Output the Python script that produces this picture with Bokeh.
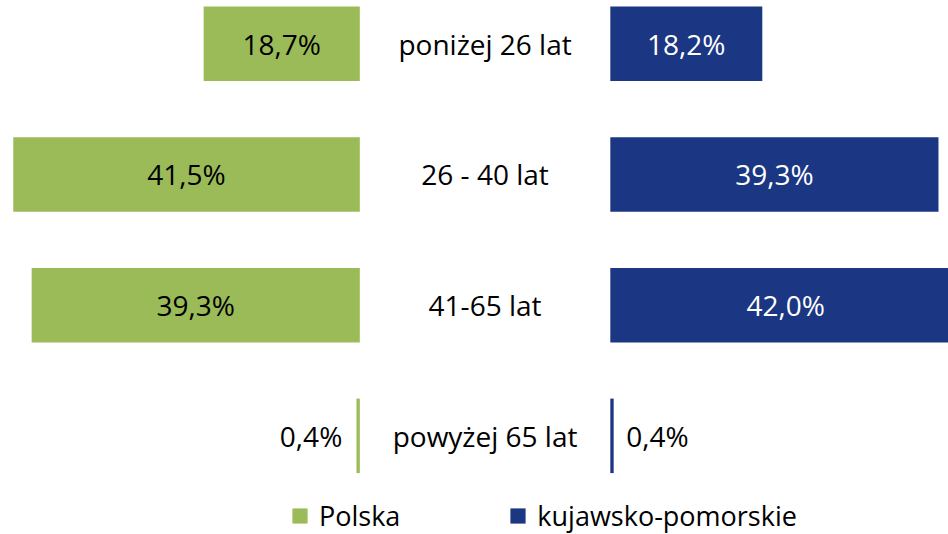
from bokeh.plotting import figure
from bokeh.models import Range1d, Legend, LegendItem, ColumnDataSource
from bokeh.core.properties import value
from bokeh.embed import file_html
from bokeh.resources import INLINE

categories = ["poniżej 26 lat", "26 - 40 lat", "41-65 lat", "powyżej 65 lat"]
polska = [18.7, 41.5, 39.3, 0.4]
kujawsko = [18.2, 39.3, 42.0, 0.4]
series_names = ["Polska", "kujawsko-pomorskie"]

GREEN = "#9BBB59"
BLUE = "#1B3682"
FONT = value("Open Sans")
GAP = 30.0          # width of the central label column, in % units
INSIDE_MIN = 5.0    # values below this get their label outside the bar

def fmt(v):
    return f"{v:.1f}".replace(".", ",") + "%"

ys = list(range(len(categories)))

p = figure(width=948, height=534, output_backend="svg", toolbar_location=None,
           x_range=Range1d(-43.03, 70.5), y_range=Range1d(3.755, -0.331),
           min_border=0, min_border_left=0, min_border_right=0,
           min_border_top=0, min_border_bottom=0)
p.axis.visible = False
p.grid.visible = False
p.outline_line_color = None

src_l = ColumnDataSource(dict(y=ys, left=[-v for v in polska], right=[0] * len(polska)))
src_r = ColumnDataSource(dict(y=ys, left=[GAP] * len(kujawsko), right=[GAP + v for v in kujawsko]))

r_l = p.hbar(y="y", left="left", right="right", height=0.57, source=src_l,
             fill_color=GREEN, line_color=None)
r_r = p.hbar(y="y", left="left", right="right", height=0.57, source=src_r,
             fill_color=BLUE, line_color=None)

# value labels, left (Polska)
lx_in, ly_in, lt_in, lx_out, ly_out, lt_out = [], [], [], [], [], []
for y, v in zip(ys, polska):
    if v >= INSIDE_MIN:
        lx_in.append(-v / 2); ly_in.append(y); lt_in.append(fmt(v))
    else:
        lx_out.append(-v - 1.7); ly_out.append(y); lt_out.append(fmt(v))
p.text(x=lx_in, y=ly_in, text=lt_in, text_font=FONT, text_font_size="28px",
       text_color="#000000", text_align="center", text_baseline="middle")
p.text(x=lx_out, y=ly_out, text=lt_out, text_font=FONT, text_font_size="28px",
       text_color="#000000", text_align="right", text_baseline="middle")

# value labels, right (kujawsko-pomorskie)
rx_in, ry_in, rt_in, rx_out, ry_out, rt_out = [], [], [], [], [], []
for y, v in zip(ys, kujawsko):
    if v >= INSIDE_MIN:
        rx_in.append(GAP + v / 2); ry_in.append(y); rt_in.append(fmt(v))
    else:
        rx_out.append(GAP + v + 1.5); ry_out.append(y); rt_out.append(fmt(v))
p.text(x=rx_in, y=ry_in, text=rt_in, text_font=FONT, text_font_size="28px",
       text_color="#FFFFFF", text_align="center", text_baseline="middle")
p.text(x=rx_out, y=ry_out, text=rt_out, text_font=FONT, text_font_size="28px",
       text_color="#000000", text_align="left", text_baseline="middle")

# category labels
p.text(x=[GAP / 2] * len(categories), y=ys, text=categories, text_font=FONT,
       text_font_size="28px", text_color="#000000", text_align="center",
       text_baseline="middle")

legend = Legend(items=[LegendItem(label=series_names[0], renderers=[r_l]),
                       LegendItem(label=series_names[1], renderers=[r_r])],
                orientation="horizontal", location=(290, 0),
                label_text_font="Open Sans", label_text_font_size="27px",
                label_text_color="#000000", glyph_width=19, glyph_height=19,
                label_standoff=10, spacing=108, padding=0, margin=0,
                border_line_color=None, background_fill_alpha=0)
p.add_layout(legend)

open("out.html", "w").write(file_html(p, INLINE))
